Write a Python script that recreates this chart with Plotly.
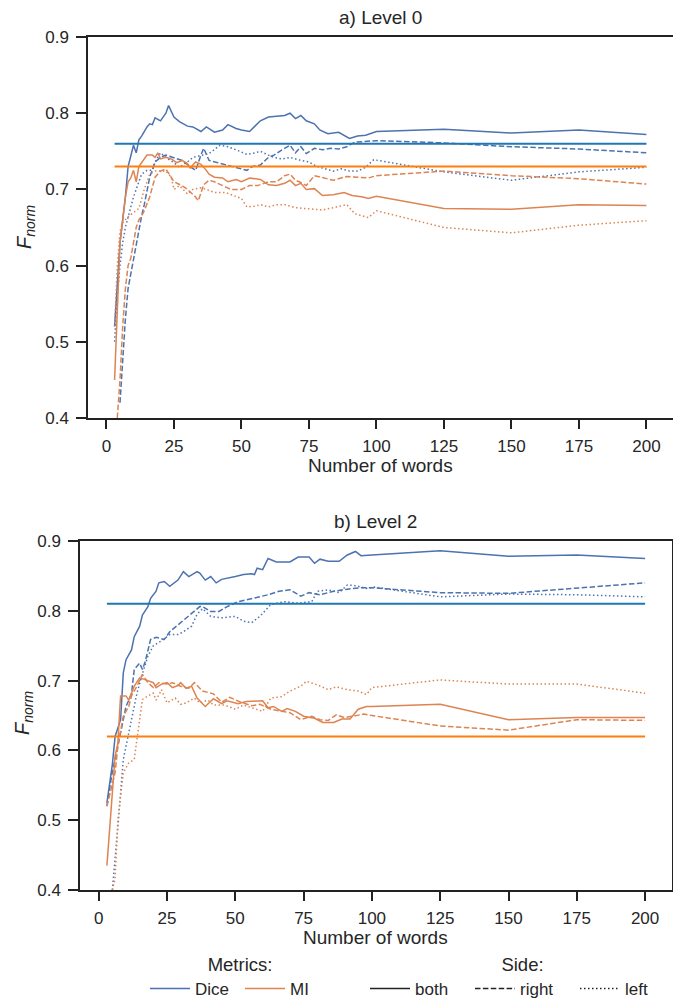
import plotly.graph_objects as go

# ---------------- data ----------------
x_ticks = [0, 25, 50, 75, 100, 125, 150, 175, 200]
y_ticks = [0.4, 0.5, 0.6, 0.7, 0.8, 0.9]
baseline_x = [3, 200]

# Level 0
base0_dice = 0.76
base0_mi = 0.73

l0_dice_both_x = [3,4,5,6,7,8,9,10,11,12,13,15,16,17,18,20,22,23,25,27,30,32,35,37,40,43,45,48,50,53,55,57,60,63,66,68,70,72,74,77,79,82,86,90,93,96,99,100,125,150,175,200]
l0_dice_both_y = [0.52,0.58,0.63,0.66,0.69,0.73,0.745,0.758,0.748,0.765,0.77,0.782,0.786,0.785,0.794,0.79,0.80,0.81,0.795,0.789,0.783,0.782,0.776,0.782,0.775,0.778,0.785,0.78,0.778,0.776,0.783,0.79,0.795,0.796,0.797,0.80,0.793,0.797,0.79,0.786,0.778,0.773,0.775,0.767,0.77,0.771,0.775,0.776,0.779,0.774,0.778,0.772]

l0_dice_right_x = [5,6,7,8,9,10,11,12,13,14,15,16,18,20,22,25,28,31,33,35,36,38,41,44,48,52,54,57,60,62,65,68,70,72,74,77,80,83,86,89,92,95,100,125,150,175,200]
l0_dice_right_y = [0.42,0.48,0.53,0.57,0.59,0.61,0.63,0.65,0.665,0.68,0.70,0.716,0.736,0.742,0.745,0.742,0.738,0.73,0.725,0.745,0.754,0.738,0.735,0.732,0.728,0.725,0.73,0.732,0.742,0.745,0.752,0.758,0.748,0.756,0.747,0.754,0.752,0.754,0.753,0.756,0.762,0.763,0.764,0.761,0.756,0.753,0.748]

l0_dice_left_x = [3,4,5,6,7,8,9,10,11,13,15,17,18,20,22,25,27,30,32,35,38,42,45,48,52,55,57,60,62,65,68,72,75,78,81,84,87,90,93,96,99,125,150,175,200]
l0_dice_left_y = [0.50,0.56,0.60,0.63,0.65,0.664,0.675,0.69,0.70,0.72,0.725,0.725,0.736,0.748,0.742,0.735,0.729,0.736,0.742,0.744,0.747,0.758,0.756,0.752,0.746,0.748,0.75,0.745,0.742,0.74,0.742,0.738,0.736,0.73,0.727,0.724,0.727,0.724,0.724,0.729,0.739,0.723,0.712,0.723,0.729]

l0_mi_both_x = [3,4,5,6,7,8,9,10,11,12,13,15,17,18,19,20,22,24,26,28,30,31,33,35,37,38,40,43,45,48,50,53,57,60,63,66,68,70,72,74,77,80,84,88,91,95,97,100,125,150,175,200]
l0_mi_both_y = [0.45,0.55,0.63,0.66,0.69,0.71,0.715,0.725,0.71,0.73,0.735,0.745,0.745,0.742,0.748,0.74,0.742,0.74,0.735,0.738,0.734,0.728,0.736,0.733,0.725,0.72,0.716,0.715,0.71,0.713,0.71,0.715,0.713,0.706,0.705,0.708,0.712,0.705,0.708,0.70,0.701,0.692,0.693,0.696,0.692,0.69,0.688,0.691,0.675,0.674,0.68,0.679]

l0_mi_right_x = [4,5,6,7,8,9,10,11,12,13,14,16,18,20,22,24,25,28,30,33,34,36,38,40,43,46,50,53,56,60,63,66,68,70,72,74,77,80,84,89,93,97,100,125,150,175,200]
l0_mi_right_y = [0.40,0.45,0.52,0.57,0.60,0.61,0.63,0.65,0.66,0.665,0.672,0.69,0.716,0.724,0.727,0.716,0.71,0.705,0.70,0.69,0.685,0.706,0.712,0.71,0.705,0.70,0.70,0.705,0.705,0.71,0.71,0.718,0.72,0.712,0.709,0.705,0.718,0.715,0.712,0.717,0.716,0.715,0.718,0.724,0.718,0.714,0.707]

l0_mi_left_x = [3,4,5,6,8,10,12,14,16,18,20,22,24,25,27,30,32,35,37,40,44,48,50,52,55,57,60,63,66,70,73,77,80,84,87,89,92,95,97,100,125,150,175,200]
l0_mi_left_y = [0.52,0.60,0.645,0.656,0.664,0.67,0.675,0.70,0.72,0.724,0.724,0.724,0.716,0.70,0.705,0.694,0.70,0.702,0.70,0.696,0.696,0.69,0.688,0.677,0.678,0.68,0.677,0.68,0.68,0.676,0.675,0.674,0.673,0.676,0.679,0.68,0.668,0.665,0.663,0.672,0.65,0.643,0.653,0.659]

# Level 2
base2_dice = 0.81
base2_mi = 0.62

l2_dice_both_x = [3,5,6,8,9,10,12,13,15,16,17,18,19,21,22,24,26,29,31,33,36,37,39,41,43,45,50,53,56,57,58,60,62,65,70,73,77,79,81,84,88,91,94,96,100,125,150,175,200]
l2_dice_both_y = [0.525,0.58,0.62,0.644,0.711,0.73,0.744,0.763,0.778,0.794,0.80,0.806,0.818,0.828,0.84,0.842,0.835,0.844,0.856,0.849,0.856,0.854,0.844,0.849,0.84,0.845,0.849,0.852,0.853,0.852,0.861,0.859,0.875,0.87,0.87,0.877,0.877,0.868,0.874,0.871,0.871,0.88,0.885,0.879,0.88,0.886,0.878,0.88,0.875]

l2_dice_right_x = [3,5,7,9,10,12,13,15,16,17,19,21,24,26,29,32,35,37,38,41,44,47,51,57,62,66,70,74,77,81,86,91,96,100,125,150,175,200]
l2_dice_right_y = [0.52,0.57,0.606,0.644,0.663,0.681,0.716,0.725,0.716,0.727,0.759,0.762,0.759,0.77,0.78,0.79,0.799,0.806,0.806,0.799,0.799,0.806,0.813,0.818,0.823,0.828,0.83,0.821,0.826,0.823,0.828,0.831,0.833,0.833,0.826,0.825,0.832,0.84]

l2_dice_left_x = [5,6,7,9,12,14,16,18,20,23,26,29,31,34,36,38,41,45,50,53,56,59,63,68,73,78,80,84,88,91,94,98,101,125,150,175,200]
l2_dice_left_y = [0.40,0.44,0.49,0.587,0.644,0.682,0.71,0.735,0.75,0.757,0.766,0.766,0.77,0.778,0.795,0.803,0.792,0.79,0.792,0.785,0.783,0.792,0.809,0.813,0.811,0.813,0.828,0.83,0.826,0.837,0.836,0.832,0.834,0.82,0.824,0.823,0.82]

l2_mi_both_x = [3,5,6,7,8,10,11,13,15,18,20,21,23,25,27,29,30,32,34,36,39,42,45,47,51,54,57,60,62,64,67,69,72,75,79,82,86,89,92,95,98,100,125,150,175,200]
l2_mi_both_y = [0.435,0.54,0.592,0.61,0.678,0.678,0.672,0.692,0.704,0.70,0.697,0.69,0.695,0.697,0.69,0.693,0.697,0.689,0.692,0.675,0.663,0.674,0.667,0.671,0.667,0.67,0.67,0.671,0.661,0.663,0.656,0.66,0.656,0.649,0.646,0.64,0.64,0.645,0.645,0.659,0.663,0.663,0.666,0.644,0.647,0.647]

l2_mi_right_x = [3,6,7,9,11,12,14,15,16,18,20,22,25,27,30,33,35,38,42,45,48,52,56,59,63,67,70,74,78,81,84,87,90,93,97,100,125,150,175,200]
l2_mi_right_y = [0.52,0.568,0.606,0.649,0.663,0.678,0.692,0.701,0.709,0.697,0.69,0.697,0.695,0.697,0.692,0.689,0.697,0.685,0.681,0.669,0.676,0.669,0.664,0.666,0.659,0.656,0.654,0.644,0.649,0.644,0.643,0.651,0.647,0.649,0.652,0.65,0.635,0.629,0.644,0.643]

l2_mi_left_x = [5,6,7,9,11,13,14,15,16,18,20,21,23,25,28,30,32,35,37,40,42,46,50,53,57,60,63,67,70,74,76,80,84,87,91,95,98,100,125,150,175,200]
l2_mi_left_y = [0.40,0.416,0.50,0.568,0.582,0.587,0.616,0.649,0.673,0.678,0.682,0.672,0.687,0.668,0.675,0.666,0.668,0.675,0.668,0.672,0.665,0.665,0.659,0.665,0.66,0.656,0.675,0.677,0.685,0.692,0.699,0.694,0.687,0.691,0.687,0.685,0.68,0.69,0.701,0.695,0.695,0.682]

# ---------------- styles ----------------
# the page body keeps its default 8px margin, so the figure is drawn 8px in
# from the window's top-left corner; screen positions are converted below.
OFF = 8
W, H = 681 - OFF, 1004 - OFF

def fx(sx):
    return (sx - OFF) / W

def fy(sy):
    return 1 - (sy - OFF) / H

C_DICE = "#4c72b0"
C_MI = "#dd8452"
C_BASE_DICE = "#1f77b4"
C_BASE_MI = "#ff7f0e"
FONT = "Liberation Sans, Arial, sans-serif"
TXT = "#262626"
LW = 1.5
DASH = "5.5px,2.4px"
DOT = "1.5px,2.5px"

fig = go.Figure()

def add_panel(xa, ya, series, bases):
    for xs, ys, col, dash in series:
        fig.add_trace(go.Scatter(x=xs, y=ys, mode="lines", xaxis=xa, yaxis=ya,
                                 line=dict(color=col, width=LW, dash=dash),
                                 showlegend=False, hoverinfo="skip"))
    for val, col in bases:
        fig.add_trace(go.Scatter(x=baseline_x, y=[val, val], mode="lines", xaxis=xa, yaxis=ya,
                                 line=dict(color=col, width=2),
                                 showlegend=False, hoverinfo="skip"))

add_panel("x", "y", [
    (l0_dice_both_x, l0_dice_both_y, C_DICE, "solid"),
    (l0_dice_right_x, l0_dice_right_y, C_DICE, DASH),
    (l0_dice_left_x, l0_dice_left_y, C_DICE, DOT),
    (l0_mi_both_x, l0_mi_both_y, C_MI, "solid"),
    (l0_mi_right_x, l0_mi_right_y, C_MI, DASH),
    (l0_mi_left_x, l0_mi_left_y, C_MI, DOT),
], [(base0_dice, C_BASE_DICE), (base0_mi, C_BASE_MI)])

add_panel("x2", "y2", [
    (l2_dice_both_x, l2_dice_both_y, C_DICE, "solid"),
    (l2_dice_right_x, l2_dice_right_y, C_DICE, DASH),
    (l2_dice_left_x, l2_dice_left_y, C_DICE, DOT),
    (l2_mi_both_x, l2_mi_both_y, C_MI, "solid"),
    (l2_mi_right_x, l2_mi_right_y, C_MI, DASH),
    (l2_mi_left_x, l2_mi_left_y, C_MI, DOT),
], [(base2_dice, C_BASE_DICE), (base2_mi, C_BASE_MI)])

# legend entries
for name, col, dash, lg in [("Dice", C_DICE, "solid", "legend"), ("MI", C_MI, "solid", "legend"),
                            ("both", "#222222", "solid", "legend2"), ("right", "#222222", DASH, "legend2"),
                            ("left", "#222222", DOT, "legend2")]:
    fig.add_trace(go.Scatter(x=[None], y=[None], mode="lines", name=name, legend=lg,
                             line=dict(color=col, width=LW, dash=dash), xaxis="x2", yaxis="y2"))

def xaxis(domain, anchor):
    return dict(domain=domain, anchor=anchor, range=[-6.85, 209.85], tickvals=x_ticks,
                showline=True, linecolor="#222", linewidth=1.5, mirror=True,
                ticks="outside", ticklen=9, tickwidth=1.5, tickcolor="#222",
                ticklabelstandoff=3,
                showgrid=False, zeroline=False, tickfont=dict(size=17, color=TXT, family=FONT))

def yaxis(domain, anchor):
    return dict(domain=domain, anchor=anchor, range=[0.4, 0.9], tickvals=y_ticks,
                tickformat=".1f",
                showline=True, linecolor="#222", linewidth=1.5, mirror=True,
                ticks="outside", ticklen=10, tickwidth=1.5, tickcolor="#222",
                ticklabelstandoff=4,
                showgrid=False, zeroline=False, tickfont=dict(size=17, color=TXT, family=FONT))

fig.update_layout(
    width=W, height=H,
    margin=dict(l=0, r=0, t=0, b=0, autoexpand=False),
    paper_bgcolor="white", plot_bgcolor="white",
    font=dict(family=FONT, color=TXT, size=17),
    xaxis=xaxis([fx(88), fx(673)], "y"),
    yaxis=yaxis([fy(418), fy(37)], "x"),
    xaxis2=xaxis([fx(80), fx(672)], "y2"),
    yaxis2=yaxis([fy(890), fy(541)], "x2"),
    legend=dict(orientation="h", x=fx(145), xanchor="left", y=fy(947), yanchor="top",
                itemwidth=40, entrywidth=40, entrywidthmode="pixels",
                title=dict(text="Metrics:", side="top center", font=dict(size=18.5)),
                font=dict(size=17), bgcolor="rgba(0,0,0,0)"),
    legend2=dict(orientation="h", x=fx(365), xanchor="left", y=fy(947), yanchor="top",
                 itemwidth=40, entrywidth=50, entrywidthmode="pixels",
                 title=dict(text="Side:", side="top center", font=dict(size=18.5)),
                 font=dict(size=17), bgcolor="rgba(0,0,0,0)"),
    showlegend=True,
)

annots = [
    dict(text="a) Level 0", x=fx(380.5), y=fy(17)),
    dict(text="b) Level 2", x=fx(376), y=fy(521)),
    dict(text="Number of words", x=fx(380.5), y=fy(466)),
    dict(text="Number of words", x=fx(376), y=fy(937)),
]
for a in annots:
    fig.add_annotation(xref="paper", yref="paper", showarrow=False, xanchor="center",
                       yanchor="middle", font=dict(size=19, color=TXT, family=FONT), **a)
for yy, xx in [(227, 26), (713, 23)]:
    fig.add_annotation(xref="paper", yref="paper", showarrow=False, x=fx(xx),
                       y=fy(yy), textangle=-90, xanchor="center", yanchor="middle",
                       text="<i>F</i><sub><i>norm</i></sub>", font=dict(size=20, color=TXT, family=FONT))

fig.write_html("out.html")
